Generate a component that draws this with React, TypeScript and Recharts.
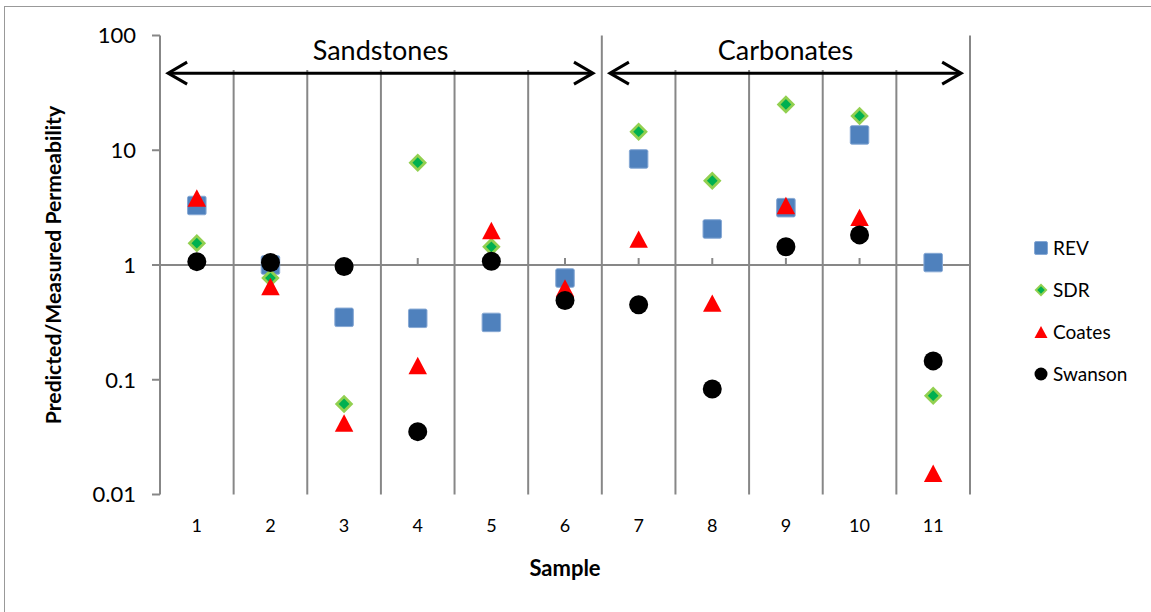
import React from 'react';
import { ScatterChart, Scatter, XAxis, YAxis, ReferenceLine, Legend } from 'recharts';

const samples = [1, 2, 3, 4, 5, 6, 7, 8, 9, 10, 11];
const revValues = [3.3, 1.0, 0.35, 0.343, 0.316, 0.77, 8.4, 2.06, 3.16, 13.6, 1.05];
const sdrValues: (number | null)[] = [1.55, 0.77, 0.0615, 7.8, 1.44, null, 14.5, 5.43, 25.1, 19.9, 0.0727];
const coatesValues = [3.84, 0.65, 0.042, 0.133, 2.0, 0.63, 1.68, 0.465, 3.3, 2.6, 0.0153];
const swansonValues = [1.07, 1.05, 0.97, 0.0353, 1.08, 0.49, 0.45, 0.083, 1.44, 1.83, 0.146];
const yTicks = [0.01, 0.1, 1, 10, 100];
const yTickLabels = ['0.01', '0.1', '1', '10', '100'];
const groupNames = ['Sandstones', 'Carbonates'];
const groupFirst = [1, 7];
const groupLast = [6, 11];

const FONT = 'Lato, "Open Sans", sans-serif';
const GRID = '#878787';

const toPoints = (vals: (number | null)[]) =>
  samples
    .map((s, i) => ({ x: s, y: vals[i] }))
    .filter((p) => p.y !== null && p.y !== undefined);

const Square = (size: number) => (p: any) => {
  const { cx, cy } = p;
  if (cx == null || cy == null) return <g />;
  return (
    <rect x={cx - size / 2} y={cy - size / 2} width={size} height={size} rx={1.5}
      fill="#4F81BD" stroke="#86A8D4" strokeWidth={1} />
  );
};
const Diamond = (size: number) => (p: any) => {
  const { cx, cy } = p;
  if (cx == null || cy == null) return <g />;
  const h = size / 2;
  const i = h * 0.58;
  return (
    <g>
      <polygon points={`${cx},${cy - h} ${cx + h},${cy} ${cx},${cy + h} ${cx - h},${cy}`} fill="#92D050" />
      <polygon points={`${cx},${cy - i} ${cx + i},${cy} ${cx},${cy + i} ${cx - i},${cy}`} fill="#00B050" />
    </g>
  );
};
const Triangle = (size: number) => (p: any) => {
  const { cx, cy } = p;
  if (cx == null || cy == null) return <g />;
  const w = size / 2;
  const h = size * 0.47;
  return <polygon points={`${cx},${cy - h} ${cx + w},${cy + h} ${cx - w},${cy + h}`} fill="#FF0000" />;
};
const Circle = (size: number) => (p: any) => {
  const { cx, cy } = p;
  if (cx == null || cy == null) return <g />;
  return <circle cx={cx} cy={cy} r={size / 2} fill="#000" />;
};

const series = [
  { name: 'REV', values: revValues, shape: Square(18.5), legend: Square(13) },
  { name: 'SDR', values: sdrValues, shape: Diamond(18.5), legend: Diamond(13) },
  { name: 'Coates', values: coatesValues, shape: Triangle(18.5), legend: Triangle(13) },
  { name: 'Swanson', values: swansonValues, shape: Circle(19), legend: Circle(13) },
];

const makeArrow = (label: string) => (props: any) => {
  const { x1, y1, x2, y2 } = props;
  const mid = (x1 + x2) / 2;
  return (
    <g>
      <line x1={x1 + 1} y1={y1} x2={x2 - 1} y2={y2} stroke="#000" strokeWidth={3} />
      <polyline points={`${x1 + 19},${y1 - 11} ${x1},${y1} ${x1 + 19},${y1 + 11}`}
        fill="none" stroke="#000" strokeWidth={3} strokeLinejoin="miter" />
      <polyline points={`${x2 - 19},${y2 - 11} ${x2},${y2} ${x2 - 19},${y2 + 11}`}
        fill="none" stroke="#000" strokeWidth={3} strokeLinejoin="miter" />
      <text x={mid} y={y1 - 13} textAnchor="middle" fontFamily={FONT} fontSize={27} fill="#000">
        {label}
      </text>
    </g>
  );
};

const renderLegend = () => (
  <div style={{ fontFamily: FONT, fontSize: 19, color: '#000' }}>
    {series.map((s) => (
      <div key={s.name} style={{ display: 'flex', alignItems: 'center', height: 42 }}>
        <svg width={14} height={14} style={{ display: 'block' }}>
          {s.legend({ cx: 7, cy: 7 })}
        </svg>
        <span style={{ marginLeft: 5, lineHeight: '22px' }}>{s.name}</span>
      </div>
    ))}
  </div>
);

export default function App() {
  const boundaries = samples.slice(0, -1).map((s) => s + 0.5);
  const lastEdge = samples[samples.length - 1] + 0.5;
  return (
    <div style={{ position: 'absolute', left: 0, top: 0, width: 1151, height: 612, overflow: 'hidden', background: '#fff' }}>
      <div style={{ position: 'absolute', left: 4, top: 6, width: 1200, height: 700, border: '1.5px solid #999', boxSizing: 'border-box' }} />
      <div style={{ position: 'absolute', left: 0, top: 0 }}>
        <ScatterChart width={1151} height={612} margin={{ top: 35.5, right: 181, bottom: 77.5, left: 0 }}>
          <XAxis
            type="number"
            dataKey="x"
            domain={[0.5, 11.5]}
            ticks={samples}
            axisLine={false}
            tickLine={false}
            tickSize={6}
            tickMargin={19}
            height={40}
            tick={{ fontSize: 18, fill: '#000', fontFamily: FONT }}
            label={{ value: 'Sample', position: 'bottom', offset: 26, style: { fontFamily: FONT, fontSize: 22, fontWeight: 700, fill: '#000' } }}
          />
          <YAxis
            type="number"
            dataKey="y"
            scale="log"
            domain={[0.01, 100]}
            allowDataOverflow
            ticks={yTicks}
            tickFormatter={(v: number, i: number) => yTickLabels[i] ?? String(v)}
            width={160}
            axisLine={{ stroke: GRID, strokeWidth: 2 }}
            tickLine={{ stroke: GRID, strokeWidth: 2 }}
            tickSize={8}
            tickMargin={16}
            tick={{ fontSize: 22, fill: '#000', fontFamily: FONT }}
            label={{ value: 'Predicted/Measured Permeability', angle: -90, position: 'insideLeft', offset: 53, style: { textAnchor: 'middle', fontFamily: FONT, fontSize: 21.2, fontWeight: 700, fill: '#000' } }}
          />
          {boundaries.map((b) => (
            <ReferenceLine key={'g' + b} ifOverflow="visible" stroke={GRID} strokeWidth={2}
              segment={[{ x: b, y: 0.01 }, { x: b, y: groupLast.includes(b - 0.5) ? 100 : 50 }]} />
          ))}
          <ReferenceLine ifOverflow="visible" stroke={GRID} strokeWidth={2}
            segment={[{ x: lastEdge, y: 0.01 }, { x: lastEdge, y: 100 }]} />
          <ReferenceLine y={1} ifOverflow="visible" stroke={GRID} strokeWidth={2} />
          {samples.map((s) => (
            <ReferenceLine key={'t' + s} ifOverflow="visible" stroke={GRID} strokeWidth={2}
              segment={[{ x: s, y: 1 }, { x: s, y: 1.15 }]} />
          ))}
          {groupNames.map((g, i) => (
            <ReferenceLine key={g} ifOverflow="visible"
              segment={[{ x: groupFirst[i] - 0.39, y: 47 }, { x: groupLast[i] + 0.38, y: 47 }]}
              shape={makeArrow(g)} />
          ))}
          {series.map((s) => (
            <Scatter key={s.name} name={s.name} data={toPoints(s.values)} shape={s.shape} isAnimationActive={false} />
          ))}
          <Legend
            layout="vertical"
            align="center"
            verticalAlign="middle"
            content={renderLegend}
            wrapperStyle={{ left: 1034, top: 227, width: 117, height: 170 }}
          />
        </ScatterChart>
      </div>
    </div>
  );
}
